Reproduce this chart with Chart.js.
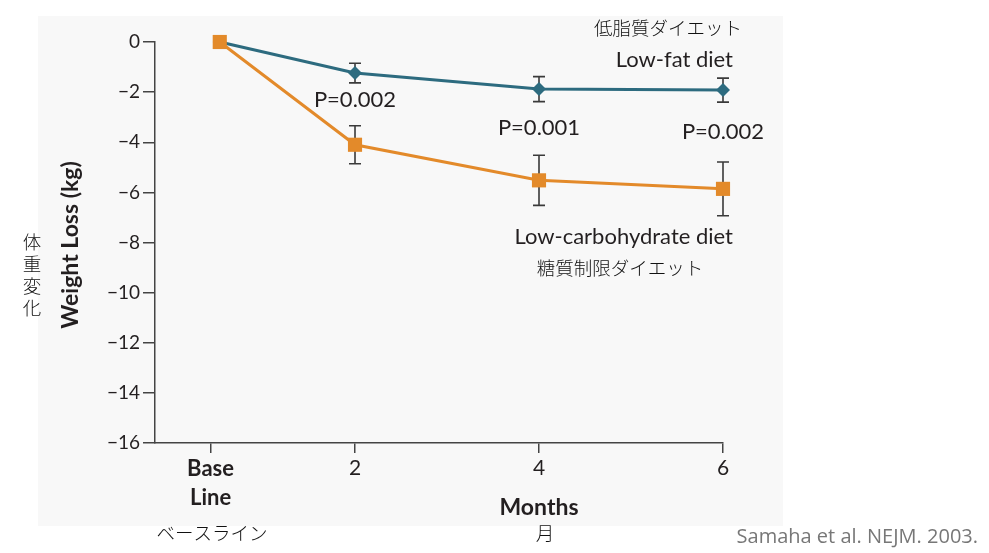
<!DOCTYPE html>
<html lang="ja">
<head>
    <meta charset="UTF-8">
    <title>Weight Loss - Samaha et al. NEJM 2003</title>
    <script src="https://cdn.jsdelivr.net/npm/chart.js"></script>
    <style>
        html, body { margin: 0; padding: 0; background: #fff; }
        canvas { display: block; }
    </style>
</head>
<body>
    <canvas id="weightChart" width="989" height="553"></canvas>
    <script>
        // x positions (months); base line sits a bit right of the axis start
        const monthTicks = [0.43, 2, 4, 6];
        const tickLabels = [['Base', 'Line'], '2', '4', '6'];
        const months = [0.53, 2, 4, 6];

        // low-fat diet, mean and error bar (kg)
        const lowFat = [0, -1.24, -1.88, -1.92];
        const lowFatErr = [0, 0.39, 0.5, 0.48];

        // low-carbohydrate diet
        const lowCarb = [0, -4.1, -5.52, -5.86];
        const lowCarbErr = [0, 0.76, 1.0, 1.07];

        const pLabels = ['P=0.002', 'P=0.001', 'P=0.002'];
        const pMonths = [2, 4, 6];

        const TEAL = '#2d6b7f';
        const ORANGE = '#e38a2a';
        const INK = '#231f20';

        function toPoints(ys) {
            return ys.map((y, i) => ({ x: months[i], y: y }));
        }

        // light grey panel behind the figure
        const panelPlugin = {
            id: 'panel',
            beforeDraw(chart) {
                const ctx = chart.ctx;
                ctx.save();
                ctx.fillStyle = '#f8f8f8';
                ctx.fillRect(38, 16, 745, 510);
                ctx.restore();
            }
        };

        const errorBarPlugin = {
            id: 'errorBars',
            beforeDatasetsDraw(chart) {
                const ctx = chart.ctx;
                const xs = chart.scales.x, ys = chart.scales.y;
                const sets = [[lowFat, lowFatErr], [lowCarb, lowCarbErr]];
                ctx.save();
                ctx.strokeStyle = '#3a3a3a';
                ctx.lineWidth = 1.6;
                sets.forEach(([vals, errs]) => {
                    vals.forEach((v, i) => {
                        if (!errs[i]) return;
                        const px = xs.getPixelForValue(months[i]);
                        const top = ys.getPixelForValue(v + errs[i]);
                        const bot = ys.getPixelForValue(v - errs[i]);
                        ctx.beginPath();
                        ctx.moveTo(px, top); ctx.lineTo(px, bot);
                        ctx.moveTo(px - 6, top); ctx.lineTo(px + 6, top);
                        ctx.moveTo(px - 6, bot); ctx.lineTo(px + 6, bot);
                        ctx.stroke();
                    });
                });
                ctx.restore();
            }
        };

        const textPlugin = {
            id: 'texts',
            afterDraw(chart) {
                const ctx = chart.ctx;
                const xs = chart.scales.x, ys = chart.scales.y;
                ctx.save();
                ctx.fillStyle = INK;
                ctx.textBaseline = 'middle';

                // p values, placed between the two lines
                const pY = [-2.32, -3.43, -3.59];
                ctx.font = '22px Lato';
                ctx.textAlign = 'center';
                pLabels.forEach((t, i) => {
                    ctx.fillText(t, xs.getPixelForValue(pMonths[i]), ys.getPixelForValue(pY[i]));
                });

                // series names
                ctx.textAlign = 'right';
                ctx.fillText('Low-fat diet', 733, 60);
                ctx.fillText('Low-carbohydrate diet', 733, 237);

                ctx.font = 'bold 23px Lato';
                ctx.textAlign = 'center';
                ctx.fillText('Months', 539, 508);

                ctx.save();
                ctx.translate(71, 245);
                ctx.rotate(-Math.PI / 2);
                ctx.font = 'bold 23px Lato';
                ctx.fillText('Weight Loss (kg)', 0, 0);
                ctx.restore();

                // Japanese notes
                ctx.fillStyle = '#111';
                ctx.font = '300 18.5px "Noto Sans CJK JP"';
                ctx.textAlign = 'center';
                ctx.fillText('低脂質ダイエット', 668, 28);
                ctx.fillText('糖質制限ダイエット', 620, 268);
                ctx.fillText('ベースライン', 212, 533);
                ctx.fillText('月', 545, 533);
                ['体', '重', '変', '化'].forEach((c, i) => {
                    ctx.fillText(c, 32, 242 + i * 22);
                });

                ctx.fillStyle = '#777';
                ctx.font = '20px "Open Sans"';
                ctx.textAlign = 'right';
                ctx.fillText('Samaha et al. NEJM. 2003.', 978, 537);
                ctx.restore();
            }
        };

        new Chart(document.getElementById('weightChart'), {
            type: 'line',
            data: {
                datasets: [
                    {
                        label: 'Low-carbohydrate diet',
                        data: toPoints(lowCarb),
                        borderColor: ORANGE,
                        backgroundColor: ORANGE,
                        borderWidth: 3,
                        pointStyle: 'rect',
                        pointRadius: 10,
                        pointBorderWidth: 0,
                        tension: 0,
                        clip: false,
                        order: 1
                    },
                    {
                        label: 'Low-fat diet',
                        data: toPoints(lowFat),
                        borderColor: TEAL,
                        backgroundColor: TEAL,
                        borderWidth: 3,
                        pointStyle: 'rectRot',
                        pointRadius: 7,
                        pointBorderWidth: 0,
                        tension: 0,
                        clip: false,
                        order: 2
                    }
                ]
            },
            options: {
                responsive: false,
                animation: false,
                layout: { padding: { top: 42, right: 266, left: 0, bottom: 0 } },
                plugins: {
                    legend: { display: false },
                    tooltip: { enabled: false }
                },
                scales: {
                    x: {
                        type: 'linear',
                        min: -0.174,
                        max: 6,
                        afterFit(scale) { scale.height = 110; },
                        afterBuildTicks(scale) {
                            scale.ticks = monthTicks.map(v => ({ value: v }));
                        },
                        border: { color: '#444', width: 1.5 },
                        grid: { drawOnChartArea: false, tickLength: 10, color: '#444', lineWidth: 1.5 },
                        ticks: {
                            color: INK,
                            padding: 2,
                            maxRotation: 0,
                            autoSkip: false,
                            font: (c) => c.index === 0
                                ? { family: 'Lato', size: 22, weight: 'bold', lineHeight: 1.3 }
                                : { family: 'Lato', size: 21, lineHeight: 1.3 },
                            callback: (v, i) => tickLabels[i]
                        }
                    },
                    y: {
                        min: -16,
                        max: 0,
                        afterFit(scale) { scale.width = 155; },
                        border: { color: '#444', width: 1.5 },
                        grid: { drawOnChartArea: false, tickLength: 12, color: '#444', lineWidth: 1.5 },
                        ticks: {
                            stepSize: 2,
                            color: INK,
                            padding: 3,
                            font: { family: 'Lato', size: 19 },
                            callback: (v) => v < 0 ? '\u2212' + Math.abs(v) : String(v)
                        }
                    }
                }
            },
            plugins: [panelPlugin, errorBarPlugin, textPlugin]
        });
    </script>
</body>
</html>
